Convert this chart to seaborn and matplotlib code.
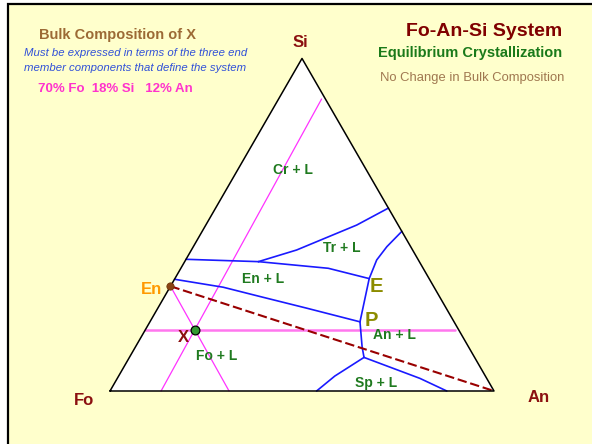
import numpy as np
import matplotlib
matplotlib.use("Agg")
import matplotlib.pyplot as plt
from matplotlib.patches import Rectangle
import seaborn as sns

# ---------------------- DATA (wt% Si, wt% An; Fo = rest) ----------------------

# cotectic boundaries
cr_tr_si = [55.0, 49.9, 42.4, 38.9]
cr_tr_an = [45.0, 39.3, 27.4, 19.2]
cr_en_si = [39.6, 38.9]
cr_en_an = [0.0, 19.2]
en_tr_si = [38.9, 36.9, 33.8]
en_tr_an = [19.2, 38.4, 50.6]
tr_an_si = [48.0, 43.4, 39.4, 33.8]
tr_an_an = [52.0, 50.4, 49.75, 50.6]
e_p_si = [33.8, 20.8]
e_p_an = [50.6, 54.7]
fo_en_si = [33.6, 31.2, 28.4, 24.9, 20.8]
fo_en_an = [0.0, 13.9, 24.9, 38.8, 54.7]
p_r_si = [20.8, 13.3, 10.1]
p_r_an = [54.7, 59.0, 61.1]
sp_an_si = [10.1, 3.8, 0.0]
sp_an_an = [61.1, 78.8, 87.7]
sp_fo_si = [10.1, 4.5, 0.0]
sp_fo_an = [61.1, 56.3, 53.8]

boundaries = [(cr_tr_si, cr_tr_an), (cr_en_si, cr_en_an), (en_tr_si, en_tr_an),
              (tr_an_si, tr_an_an), (e_p_si, e_p_an), (fo_en_si, fo_en_an),
              (p_r_si, p_r_an), (sp_an_si, sp_an_an), (sp_fo_si, sp_fo_an)]

# special points
bulk_x = (18.3, 12.9)       # plotted position of X (70% Fo 18% Si 12% An)
en_pt = (31.5, 0.0)
e_pt = (33.8, 50.6)
p_pt = (20.8, 54.7)

# construction lines through X
si_line_si = [18.3, 18.3]
si_line_an = [0.0, 80.7]
an_line_si = [0.0, 87.8]
an_line_an = [13.3, 11.2]
fo_line_si = [31.5, 0.0]
fo_line_an = [0.0, 31.0]

# corners
corner_names = ["Fo", "An", "Si"]
corner_si = [0.0, 0.0, 100.0]
corner_an = [0.0, 100.0, 0.0]

# phase field labels
field_labels = ["Cr + L", "Tr + L", "En + L", "Fo + L", "An + L", "Sp + L"]
field_si = [66.5, 42.9, 33.6, 10.5, 16.8, 2.5]
field_an = [14.5, 38.9, 23.1, 22.5, 65.8, 68.0]


def tern(si, an):
    si = np.asarray(si, dtype=float) / 100.0
    an = np.asarray(an, dtype=float) / 100.0
    return an + si / 2.0, si * np.sqrt(3) / 2.0


# ---------------------- PLOT ----------------------

sns.set_theme(style="white")
plt.rcParams['font.family'] = ['Liberation Sans', 'DejaVu Sans']

fig = plt.figure(figsize=(5.92, 4.44), dpi=100)
fig.patch.set_facecolor("white")
fig.patches.append(Rectangle((8 / 592, -0.1), 1.2, 1.1 - 4 / 444, transform=fig.transFigure,
                             facecolor="#ffffcc", edgecolor="black", linewidth=1.6, zorder=-1))

ax = fig.add_axes([0, 0, 1, 1])
ax.set_xlim(-110 / 384, 482 / 384)
ax.set_ylim(-53 / 384, 391 / 384)
ax.axis("off")
ax.patch.set_alpha(0)

# triangle
cu, cv = tern(corner_si, corner_an)
ax.fill(cu, cv, facecolor="white", edgecolor="none", zorder=1)
ax.plot(np.append(cu, cu[0]), np.append(cv, cv[0]), color="black", lw=1.1, zorder=5)

# lines through X parallel to the sides
u, v = tern(si_line_si, si_line_an)
ax.plot(u, v, color="#ff77ee", lw=1.8, zorder=2)
u, v = tern(an_line_si, an_line_an)
ax.plot(u, v, color="#ff33ff", lw=0.9, zorder=2)
u, v = tern(fo_line_si, fo_line_an)
ax.plot(u, v, color="#ff33ff", lw=0.9, zorder=2)

# cotectics
for si, an in boundaries:
    u, v = tern(si, an)
    sns.lineplot(x=u, y=v, sort=False, estimator=None, color="#1a1aff", lw=1.2, ax=ax, zorder=3)

# En - An join
u, v = tern([en_pt[0], 0], [en_pt[1], 100])
ax.plot(u, v, color="#990000", lw=1.5, linestyle=(0, (4.5, 1.8)), zorder=4)

# points
u, v = tern([bulk_x[0]], [bulk_x[1]])
sns.scatterplot(x=u, y=v, s=40, color="#339933", edgecolor="black", linewidth=0.9, ax=ax, zorder=6)
u, v = tern([en_pt[0]], [en_pt[1]])
sns.scatterplot(x=u, y=v, s=28, color="#8b4513", edgecolor="#6b3000", linewidth=0.5, ax=ax, zorder=6)

# labels
offsets = {"Fo": (-19, -6.5), "An": (32, -5), "Si": (-1.5, 11.5)}
for name, si, an in zip(corner_names, corner_si, corner_an):
    u, v = tern(si, an)
    ax.annotate(name, (u, v), xytext=offsets[name], textcoords="offset points",
                ha="center", va="center", fontsize=12, fontweight="bold", color="#8b1010")

for lab, si, an in zip(field_labels, field_si, field_an):
    u, v = tern(si, an)
    ax.text(u, v, lab, ha="center", va="center", fontsize=10, fontweight="bold",
            color="#1f7a1f", zorder=7)

u, v = tern(*en_pt)
ax.annotate("En", (u, v), xytext=(-14, -2), textcoords="offset points", ha="center", va="center",
            fontsize=12, fontweight="bold", color="#ff9900")
u, v = tern(*bulk_x)
ax.annotate("X", (u, v), xytext=(-8, -5.5), textcoords="offset points", ha="center", va="center",
            fontsize=12, fontweight="bold", color="#8b1010")
u, v = tern(*e_pt)
ax.annotate("E", (u, v), xytext=(5.5, -6), textcoords="offset points", ha="center", va="center",
            fontsize=14.5, fontweight="bold", color="#8c8c00")
u, v = tern(*p_pt)
ax.annotate("P", (u, v), xytext=(8, 1.2), textcoords="offset points", ha="center", va="center",
            fontsize=14.5, fontweight="bold", color="#8c8c00")

# header texts
fig.text(39 / 592, 1 - 35.5 / 444, "Bulk Composition of X", fontsize=10.5, fontweight="bold",
         color="#9c6a35", ha="left", va="center")
fig.text(24 / 592, 1 - 53.3 / 444, "Must be expressed in terms of the three end", fontsize=8.2,
         style="italic", color="#3050d8", ha="left", va="center")
fig.text(24 / 592, 1 - 68.3 / 444, "member components that define the system", fontsize=8.2,
         style="italic", color="#3050d8", ha="left", va="center")
fig.text(38 / 592, 1 - 89.3 / 444, "70% Fo  18% Si   12% An", fontsize=9.5, fontweight="bold",
         color="#ff33cc", ha="left", va="center")

fig.text(562 / 592, 1 - 31.5 / 444, "Fo-An-Si System", fontsize=14, fontweight="bold",
         color="#800000", ha="right", va="center")
fig.text(562 / 592, 1 - 53 / 444, "Equilibrium Crystallization", fontsize=10.5, fontweight="bold",
         color="#1a7a1a", ha="right", va="center")
fig.text(564 / 592, 1 - 77.5 / 444, "No Change in Bulk Composition", fontsize=9.4,
         color="#a07850", ha="right", va="center")

fig.savefig("out.png", dpi=100)
